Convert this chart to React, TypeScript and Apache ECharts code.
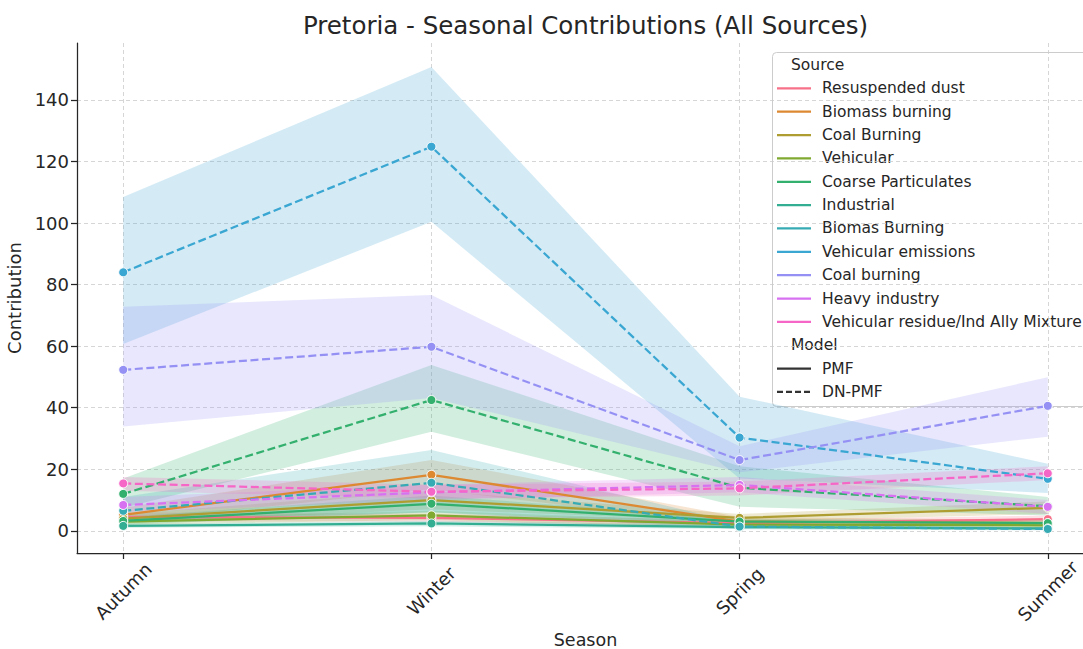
import React, { useEffect, useRef } from 'react';
import * as echarts from 'echarts';

const seasons = ['Autumn', 'Winter', 'Spring', 'Summer'];
const seasonIdx = [0, 1, 2, 3];
const yTicks = [0, 20, 40, 60, 80, 100, 120, 140];

const sources = [
  'Resuspended dust',
  'Biomass burning',
  'Coal Burning',
  'Vehicular',
  'Coarse Particulates',
  'Industrial',
  'Biomas Burning',
  'Vehicular emissions',
  'Coal burning',
  'Heavy industry',
  'Vehicular residue/Ind Ally Mixture',
];
const sourceColors = [
  '#f77189', '#dc8932', '#ae9d31', '#80a931', '#33b06e', '#34ae93',
  '#37abb4', '#3aa6d2', '#9591f4', '#d870f2', '#f666c6',
];
const models = ['PMF', 'DN-PMF'];

// PMF
const resuspendedDustPMF = [4.5, 4.2, 2.5, 3.8];
const resuspendedDustPMFLo = [3.0, 3.0, 1.5, 2.5];
const resuspendedDustPMFHi = [6.0, 5.5, 3.5, 5.0];
const biomassBurningPMF = [5.2, 18.2, 3.0, 2.5];
const biomassBurningPMFLo = [3.0, 13.5, 1.5, 1.5];
const biomassBurningPMFHi = [7.5, 23.0, 4.5, 3.5];
const coalBurningPMF = [4.0, 10.0, 4.2, 7.5];
const coalBurningPMFLo = [2.5, 7.0, 3.0, 5.5];
const coalBurningPMFHi = [5.5, 13.0, 5.5, 9.5];
const vehicularPMF = [3.0, 5.0, 2.0, 1.8];
const vehicularPMFLo = [2.0, 3.5, 1.0, 1.0];
const vehicularPMFHi = [4.0, 6.5, 3.0, 2.6];
const coarsePMF = [3.2, 8.8, 3.0, 2.5];
const coarsePMFLo = [2.0, 6.0, 2.0, 1.5];
const coarsePMFHi = [4.5, 11.5, 4.0, 3.5];
const industrialPMF = [1.6, 2.4, 1.2, 0.8];
const industrialPMFLo = [1.0, 1.5, 0.6, 0.3];
const industrialPMFHi = [2.2, 3.3, 1.8, 1.3];

// DN-PMF
const coarseDN = [12.0, 42.5, 14.0, 8.0];
const coarseDNLo = [7.5, 32.2, 7.8, 5.0];
const coarseDNHi = [17.0, 53.9, 21.0, 11.0];
const biomasBurningDN = [6.5, 15.6, 1.4, 0.6];
const biomasBurningDNLo = [3.0, 6.0, 0.5, 0.2];
const biomasBurningDNHi = [11.0, 26.3, 2.5, 1.2];
const vehicularEmissionsDN = [84.0, 124.8, 30.3, 16.9];
const vehicularEmissionsDNLo = [60.7, 100.4, 17.0, 12.3];
const vehicularEmissionsDNHi = [108.5, 150.7, 43.6, 21.8];
const coalBurningDN = [52.3, 59.8, 23.0, 40.6];
const coalBurningDNLo = [33.9, 43.2, 19.0, 30.6];
const coalBurningDNHi = [72.8, 76.6, 27.5, 49.9];
const heavyIndustryDN = [8.4, 12.5, 14.9, 7.8];
const heavyIndustryDNLo = [6.0, 10.0, 12.5, 5.5];
const heavyIndustryDNHi = [11.0, 15.0, 17.5, 10.0];
const vehicularResidueDN = [15.4, 12.7, 13.8, 18.7];
const vehicularResidueDNLo = [13.0, 10.5, 11.5, 16.5];
const vehicularResidueDNHi = [17.5, 15.0, 16.0, 21.0];

const lines = [
  { src: 0, model: 0, mean: resuspendedDustPMF, lo: resuspendedDustPMFLo, hi: resuspendedDustPMFHi },
  { src: 1, model: 0, mean: biomassBurningPMF, lo: biomassBurningPMFLo, hi: biomassBurningPMFHi },
  { src: 2, model: 0, mean: coalBurningPMF, lo: coalBurningPMFLo, hi: coalBurningPMFHi },
  { src: 3, model: 0, mean: vehicularPMF, lo: vehicularPMFLo, hi: vehicularPMFHi },
  { src: 4, model: 0, mean: coarsePMF, lo: coarsePMFLo, hi: coarsePMFHi },
  { src: 4, model: 1, mean: coarseDN, lo: coarseDNLo, hi: coarseDNHi },
  { src: 5, model: 0, mean: industrialPMF, lo: industrialPMFLo, hi: industrialPMFHi },
  { src: 6, model: 1, mean: biomasBurningDN, lo: biomasBurningDNLo, hi: biomasBurningDNHi },
  { src: 7, model: 1, mean: vehicularEmissionsDN, lo: vehicularEmissionsDNLo, hi: vehicularEmissionsDNHi },
  { src: 8, model: 1, mean: coalBurningDN, lo: coalBurningDNLo, hi: coalBurningDNHi },
  { src: 9, model: 1, mean: heavyIndustryDN, lo: heavyIndustryDNLo, hi: heavyIndustryDNHi },
  { src: 10, model: 1, mean: vehicularResidueDN, lo: vehicularResidueDNLo, hi: vehicularResidueDNHi },
];

const FONT = 'DejaVu Sans';
const TXT = '#262626';
const DASH = [8, 3.6];

export default function App() {
  const ref = useRef<HTMLDivElement>(null);
  useEffect(() => {
    if (!ref.current) return;
    const chart = echarts.init(ref.current, undefined, { renderer: 'svg' });
    const series: any[] = [];
    lines.forEach((ln, k) => {
      const color = sourceColors[ln.src];
      series.push({
        type: 'custom',
        name: sources[ln.src] + ' band ' + k,
        silent: true,
        z: 1,
        data: seasonIdx.map((i) => [i, ln.lo[i], ln.hi[i]]),
        encode: { x: 0, y: [1, 2] },
        renderItem: (params: any, api: any) => {
          if (params.dataIndex !== 0) return null;
          const pts: number[][] = [];
          seasonIdx.forEach((i) => pts.push(api.coord([i, ln.hi[i]])));
          [...seasonIdx].reverse().forEach((i) => pts.push(api.coord([i, ln.lo[i]])));
          return {
            type: 'polygon',
            shape: { points: pts },
            style: { fill: color, opacity: 0.22 },
          };
        },
      });
    });
    lines.forEach((ln) => {
      const color = sourceColors[ln.src];
      series.push({
        type: 'line',
        name: sources[ln.src] + ' ' + models[ln.model],
        z: 3,
        data: seasonIdx.map((i) => [i, ln.mean[i]]),
        symbol: 'circle',
        symbolSize: 9,
        showSymbol: true,
        itemStyle: { color, borderColor: '#ffffff', borderWidth: 1 },
        lineStyle: { color, width: 2.25, type: ln.model === 1 ? DASH : 'solid' },
      });
    });

    const legendItems: any[] = [];
    const LX = 772, LY = 52, step = 23.35;
    legendItems.push({
      type: 'rect',
      shape: { x: LX + 0.5, y: LY + 0.5, width: 340, height: 354, r: 4 },
      style: { fill: 'rgba(255,255,255,0.8)', stroke: '#cccccc', lineWidth: 1 },
    });
    const rowY = (r: number) => LY + 13 + r * step;
    legendItems.push({
      type: 'text', x: 791, y: rowY(0),
      style: { text: 'Source', font: `15.5px "${FONT}"`, fill: TXT, verticalAlign: 'middle' },
    });
    sources.forEach((s, i) => {
      const y = rowY(i + 1);
      legendItems.push({
        type: 'line',
        shape: { x1: 777, y1: y, x2: 811, y2: y },
        style: { stroke: sourceColors[i], lineWidth: 2.25 },
      });
      legendItems.push({
        type: 'text', x: 822, y,
        style: { text: s, font: `15.5px "${FONT}"`, fill: TXT, verticalAlign: 'middle' },
      });
    });
    legendItems.push({
      type: 'text', x: 791, y: rowY(12),
      style: { text: 'Model', font: `15.5px "${FONT}"`, fill: TXT, verticalAlign: 'middle' },
    });
    models.forEach((m, i) => {
      const y = rowY(13 + i);
      legendItems.push({
        type: 'line',
        shape: { x1: 777, y1: y, x2: 811, y2: y },
        style: { stroke: '#333333', lineWidth: 2.25, lineDash: i === 1 ? [6, 3] : null },
      });
      legendItems.push({
        type: 'text', x: 822, y,
        style: { text: m, font: `15.5px "${FONT}"`, fill: TXT, verticalAlign: 'middle' },
      });
    });

    chart.setOption({
      animation: false,
      backgroundColor: '#ffffff',
      textStyle: { fontFamily: FONT },
      grid: { left: 77, top: 43, height: 510, width: 1017, containLabel: false, outerBoundsMode: 'none' },
      xAxis: {
        type: 'value',
        min: -0.15,
        max: 3.15,
        name: 'Season',
        nameLocation: 'middle',
        nameGap: 76,
        nameTextStyle: { fontSize: 17.5, color: TXT, fontFamily: FONT },
        axisLine: { show: true, onZero: false, lineStyle: { color: TXT, width: 1.25 } },
        axisTick: { show: true, length: 6, customValues: seasonIdx, lineStyle: { color: TXT, width: 1.25 } },
        axisLabel: {
          customValues: seasonIdx,
          formatter: (v: number) => seasons[Math.round(v)] ?? '',
          rotate: 45,
          align: 'center',
          verticalAlign: 'middle',
          margin: 38,
          fontSize: 18,
          color: TXT,
          fontFamily: FONT,
        },
        splitLine: { show: true, lineStyle: { color: '#cccccc', type: [4, 3], width: 0.8 } },
      },
      yAxis: {
        type: 'value',
        min: -7.2,
        max: 158.5,
        name: 'Contribution',
        nameLocation: 'middle',
        nameGap: 47,
        nameTextStyle: { fontSize: 18, color: TXT, fontFamily: FONT },
        axisLine: { show: true, onZero: false, lineStyle: { color: TXT, width: 1.25 } },
        axisTick: { show: true, length: 6, customValues: yTicks, lineStyle: { color: TXT, width: 1.25 } },
        axisLabel: { customValues: yTicks, fontSize: 18, color: TXT, fontFamily: FONT, margin: 8 },
        splitLine: { show: true, lineStyle: { color: '#cccccc', type: [4, 3], width: 0.8 } },
      },
      graphic: [
        {
          type: 'text',
          x: 585.5,
          y: 25,
          style: {
            text: 'Pretoria - Seasonal Contributions (All Sources)',
            font: `24.5px "${FONT}"`,
            fill: TXT,
            align: 'center',
            verticalAlign: 'middle',
          },
        },
        { type: 'group', z: 100, children: legendItems },
      ],
      series,
    });
    return () => chart.dispose();
  }, []);
  return (
    <div
      ref={ref}
      style={{ position: 'fixed', left: 0, top: 0, width: 1083, height: 649, background: '#fff' }}
    />
  );
}
